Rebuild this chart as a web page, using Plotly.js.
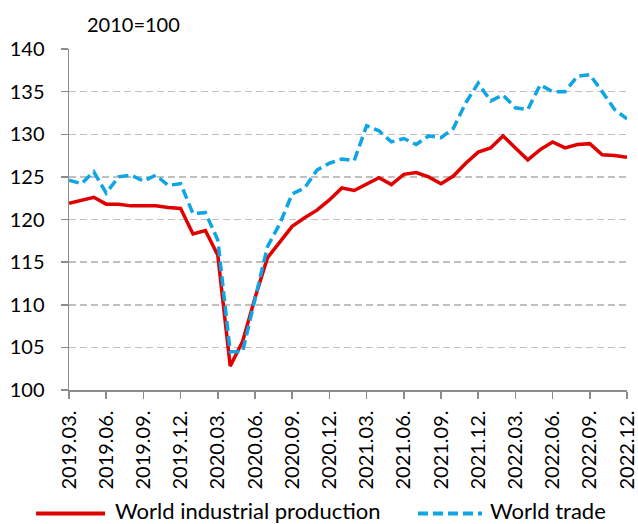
<!DOCTYPE html>
<html>
<head>
<meta charset="utf-8">
<script src="https://cdn.plot.ly/plotly-3.0.1.min.js"></script>
<style>html,body{margin:0;padding:0;background:#fff;}#chart{width:638px;height:524px;}</style>
</head>
<body>
<div id="chart"></div>
<script>
const months = [
"2019.03.","2019.04.","2019.05.","2019.06.","2019.07.","2019.08.","2019.09.","2019.10.","2019.11.","2019.12.",
"2020.01.","2020.02.","2020.03.","2020.04.","2020.05.","2020.06.","2020.07.","2020.08.","2020.09.","2020.10.","2020.11.","2020.12.",
"2021.01.","2021.02.","2021.03.","2021.04.","2021.05.","2021.06.","2021.07.","2021.08.","2021.09.","2021.10.","2021.11.","2021.12.",
"2022.01.","2022.02.","2022.03.","2022.04.","2022.05.","2022.06.","2022.07.","2022.08.","2022.09.","2022.10.","2022.11.","2022.12."
];
const industrialProduction = [
121.9,122.2,122.6,121.8,121.8,121.6,121.65,121.6,121.4,121.3,
118.3,118.7,115.8,102.8,105.7,110.8,115.5,117.4,119.2,120.2,121.1,122.3,
123.7,123.4,124.2,124.9,124.1,125.3,125.5,125.0,124.2,125.1,126.6,127.9,
128.4,129.8,128.4,127.0,128.2,129.1,128.4,128.8,128.9,127.6,127.5,127.3
];
const worldTrade = [
124.6,124.2,125.6,123.1,125.0,125.2,124.5,125.2,124.0,124.2,
120.7,120.8,117.6,104.5,104.5,110.5,116.8,119.5,123.0,123.7,125.8,126.6,
127.1,126.9,131.0,130.4,129.1,129.5,128.8,129.8,129.6,130.7,133.7,136.0,
133.9,134.6,133.1,132.9,135.8,135.0,135.0,136.8,137.0,135.0,132.9,131.8
];
const tickLabels = months.filter((m, i) => i % 3 === 0);
const seriesNames = ["World industrial production", "World trade"];
const yTicks = [100,105,110,115,120,125,130,135,140];
const unitNote = "2010=100";

const FONT = "Lato, 'Liberation Sans', sans-serif";
const RED = "#e00000", BLUE = "#0ea5e4";

const traces = [
  {x: months, y: industrialProduction, name: seriesNames[0], type: "scatter", mode: "lines",
   line: {color: RED, width: 3.5}},
  {x: months, y: worldTrade, name: seriesNames[1], type: "scatter", mode: "lines",
   line: {color: BLUE, width: 3.5, dash: "10px,5px"}}
];

// custom legend positions (paper coordinates)
const legY = -0.362;
const legTextY = -0.352;
const layout = {
  width: 638, height: 524,
  margin: {l: 69, r: 11, t: 49, b: 134, autoexpand: false},
  paper_bgcolor: "#fff", plot_bgcolor: "#fff",
  font: {family: FONT, size: 20, color: "#000"},
  showlegend: false,
  xaxis: {
    type: "category", range: [0, 45], tickmode: "array", tickvals: tickLabels, ticktext: tickLabels,
    tickangle: -90, showgrid: false, showline: true, linecolor: "#8c8c8c", linewidth: 1.5,
    ticks: "outside", ticklen: 7, tickcolor: "#8c8c8c", tickwidth: 1.5, ticklabelstandoff: 4,
    tickfont: {family: FONT, size: 20, color: "#000"}, zeroline: false, fixedrange: true, automargin: false
  },
  yaxis: {
    range: [100, 140], tickmode: "array", tickvals: yTicks,
    showgrid: true, gridcolor: "#c0c0c0", gridwidth: 1.5, griddash: "7px,4px",
    showline: true, linecolor: "#8c8c8c", linewidth: 1.5,
    ticks: "outside", ticklen: 7, tickcolor: "#8c8c8c", tickwidth: 1.5, ticklabelstandoff: 12,
    tickfont: {family: FONT, size: 20, color: "#000"}, zeroline: false, fixedrange: true, automargin: false
  },
  shapes: [
    {type: "line", xref: "paper", yref: "paper", x0: -0.059, x1: 0.0645, y0: legY, y1: legY,
     line: {color: RED, width: 4}},
    {type: "line", xref: "paper", yref: "paper", x0: 0.6254, x1: 0.7401, y0: legY, y1: legY,
     line: {color: BLUE, width: 4, dash: "10px,5px"}}
  ],
  annotations: [
    {text: unitNote, xref: "paper", yref: "paper", x: 0.029, y: 1.073, xanchor: "left", yanchor: "middle",
     showarrow: false, font: {family: FONT, size: 20, color: "#000"}},
    {text: seriesNames[0], xref: "paper", yref: "paper", x: 0.0789, y: legTextY, xanchor: "left", yanchor: "middle",
     showarrow: false, font: {family: FONT, size: 22, color: "#000"}},
    {text: seriesNames[1], xref: "paper", yref: "paper", x: 0.7509, y: legTextY, xanchor: "left", yanchor: "middle",
     showarrow: false, font: {family: FONT, size: 22, color: "#000"}}
  ]
};

Plotly.newPlot("chart", traces, layout, {displayModeBar: false, staticPlot: true});
</script>
</body>
</html>
